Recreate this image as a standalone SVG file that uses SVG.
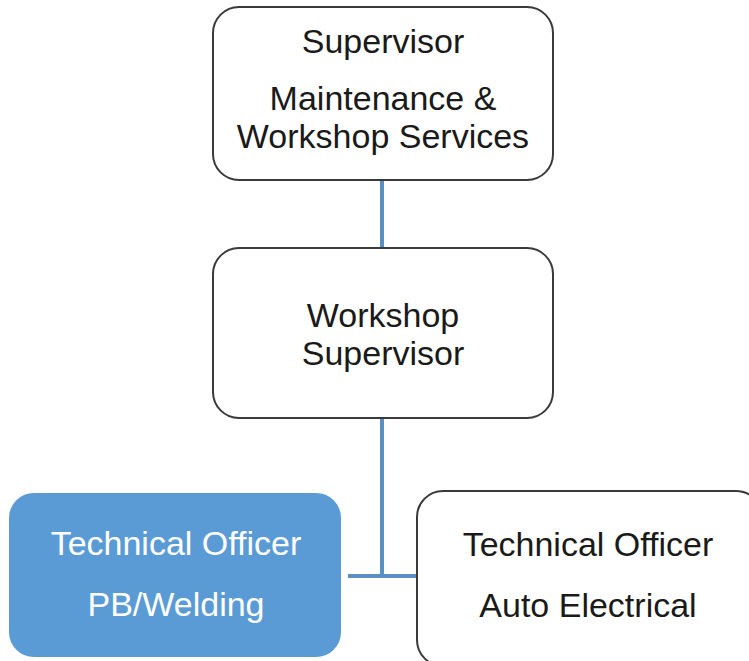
<svg xmlns="http://www.w3.org/2000/svg" width="749" height="661" viewBox="0 0 749 661">
<style>
.box{fill:#ffffff;stroke:#3a3a3a;stroke-width:2}
.blue{fill:#5b9bd5;stroke:#5b9bd5;stroke-width:2}
.t{font-family:"Liberation Sans",Arial,sans-serif;font-size:34px;fill:#1a1a1a;text-anchor:middle}
.w{fill:#ffffff}
.c{stroke:#5a8fc4;stroke-width:4;fill:none}
</style>
<rect width="749" height="661" fill="#ffffff"/>
<g id="connectors">
<line class="c" x1="382" y1="180" x2="382" y2="248"/>
<line class="c" x1="382" y1="418" x2="382" y2="576"/>
<line class="c" x1="348" y1="576" x2="417" y2="576"/>
</g>
<g id="n1">
<rect class="box" x="213" y="7" width="340" height="173" rx="26"/>
<text class="t" x="383" y="53">Supervisor</text>
<text class="t" x="383" y="110">Maintenance &amp;</text>
<text class="t" x="383" y="148">Workshop Services</text>
</g>
<g id="n2">
<rect class="box" x="213" y="248" width="340" height="170" rx="26"/>
<text class="t" x="383" y="327">Workshop</text>
<text class="t" x="383" y="365">Supervisor</text>
</g>
<g id="n3">
<rect class="blue" x="10" y="494" width="330" height="162" rx="24"/>
<text class="t w" x="176" y="555">Technical Officer</text>
<text class="t w" x="176" y="616">PB/Welding</text>
</g>
<g id="n4">
<rect class="box" x="417" y="491" width="345" height="175" rx="26"/>
<text class="t" x="588" y="556">Technical Officer</text>
<text class="t" x="588" y="617">Auto Electrical</text>
</g>
</svg>
